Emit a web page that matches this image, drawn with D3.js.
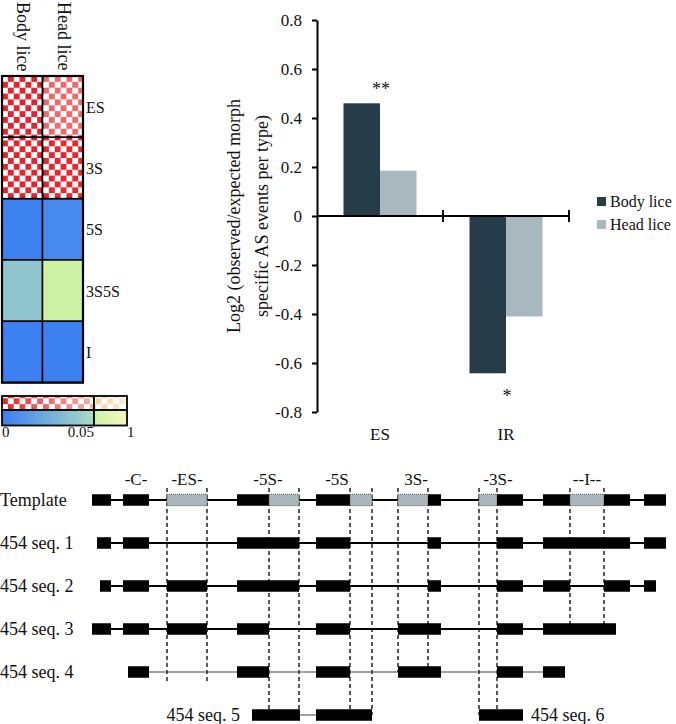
<!DOCTYPE html>
<meta charset="utf-8">
<script src="https://d3js.org/d3.v7.min.js"></script>
<style>
  body { margin: 0; background: #fff; }
  text { font-family: "Liberation Serif", serif; fill: #111; }
</style>
<div id="fig"></div>
<script>

// heatmap: p-values and direction (up = over-represented, drawn checkered)
var heatRows = ["ES", "3S", "5S", "3S5S", "I"];
var heatCols = ["Body lice", "Head lice"];
var heatP = [[0.001, 0.025], [0.001, 0.002], [0.002, 0.006], [0.038, 0.06], [0.001, 0.001]];
var heatDir = [["up", "up"], ["up", "up"], ["down", "down"], ["down", "down"], ["down", "down"]];
var keyTicks = [0, 0.05, 1];

// bar chart
var barCats = ["ES", "IR"];
var barSeries = ["Body lice", "Head lice"];
var bodyVals = [0.46, -0.642];
var headVals = [0.185, -0.41];
var barStars = ["**", "*"];
var yTicks = [-0.8, -0.6, -0.4, -0.2, 0, 0.2, 0.4, 0.6, 0.8];

// gene models (schematic units), "e" = exon, "a" = alternative region
var geneRows = ["Template", "454 seq. 1", "454 seq. 2", "454 seq. 3", "454 seq. 4", "454 seq. 5/6"];
var templateExons = [[0,19,"e"],[31,57,"e"],[75,115,"a"],[145,177,"e"],[177,207,"a"],[224,258,"e"],[258,280,"a"],
                     [306,336,"a"],[336,349,"e"],[387,405,"a"],[405,431,"e"],[451,478,"e"],[478,512,"a"],[512,538,"e"],[552,574,"e"]];
var seq1Exons = [[5,19],[31,57],[145,207],[224,258],[336,349],[405,431],[451,538],[552,574]];
var seq2Exons = [[8,19],[31,57],[75,115],[145,207],[224,258],[336,349],[405,431],[451,478],[512,538],[552,564]];
var seq3Exons = [[0,19],[31,57],[75,115],[145,177],[224,258],[306,349],[405,431],[451,524]];
var seq4Exons = [[36,57],[145,177],[224,258],[306,349],[405,431],[451,473]];
var seq5Exons = [[160,208],[224,280]];
var seq6Exons = [[387,431]];
var eventLabels = ["-C-", "-ES-", "-5S-", "-5S", "3S-", "-3S-", "--I--"];
var eventPos = [44, 95, 176, 245, 324, 406, 495];
var dashPos = [75, 115, 177, 207, 258, 280, 306, 336, 387, 405, 478, 512];
var dashEnd = ["454 seq. 4", "454 seq. 4", "454 seq. 5/6", "454 seq. 5/6", "454 seq. 5/6", "454 seq. 5/6",
               "454 seq. 4", "454 seq. 4", "454 seq. 5/6", "454 seq. 5/6", "454 seq. 3", "454 seq. 3"];

var svg = d3.select("#fig").append("svg")
    .attr("width", 676)
    .attr("height", 724);
var defs = svg.append("defs");

// colours
function downColor(p) {
  if (p <= 0.05) return d3.interpolateRgb("#3a7ef2", "#a8dcc4")(p / 0.05);
  return d3.interpolateRgb("#cdf2a6", "#f6f9bc")((p - 0.05) / 0.95);
}
function upColor(p) {
  if (p <= 0.05) return d3.interpolateRgb("#e6202a", "#f6b4aa")(p / 0.05);
  return d3.interpolateRgb("#f8cc9e", "#fcf0cc")((p - 0.05) / 0.95);
}

var cs = 5.86;
var checker = defs.append("pattern")
    .attr("id", "checker")
    .attr("patternUnits", "userSpaceOnUse")
    .attr("x", 2).attr("y", 76)
    .attr("width", cs * 2).attr("height", cs * 2);
checker.append("rect").attr("x", 0).attr("y", 0).attr("width", cs).attr("height", cs).attr("fill", "#fff");
checker.append("rect").attr("x", cs).attr("y", cs).attr("width", cs).attr("height", cs).attr("fill", "#fff");

// ---------- heatmap ----------
var xh = d3.scaleBand().domain(heatCols).range([2, 83]);
var yh = d3.scaleBand().domain(heatRows).range([76, 382.6]);

var cells = [];
heatRows.forEach(function(r, i) {
  heatCols.forEach(function(c, j) {
    cells.push({row: r, col: c, p: heatP[i][j], dir: heatDir[i][j]});
  });
});

var hm = svg.append("g");
hm.selectAll(".cell").data(cells).enter().append("rect")
    .attr("x", d => xh(d.col)).attr("y", d => yh(d.row))
    .attr("width", xh.bandwidth()).attr("height", yh.bandwidth())
    .attr("fill", d => d.dir == "up" ? upColor(d.p) : downColor(d.p))
    .attr("stroke", "#000").attr("stroke-width", 1.5);
hm.selectAll(".chk").data(cells.filter(d => d.dir == "up")).enter().append("rect")
    .attr("x", d => xh(d.col)).attr("y", d => yh(d.row))
    .attr("width", xh.bandwidth()).attr("height", yh.bandwidth())
    .attr("fill", "url(#checker)")
    .attr("stroke", "#000").attr("stroke-width", 1.5);
hm.append("rect")
    .attr("x", 2).attr("y", 76).attr("width", 81).attr("height", 306.6)
    .attr("fill", "none").attr("stroke", "#000").attr("stroke-width", 2.2);

hm.selectAll(".rowlab").data(heatRows).enter().append("text")
    .attr("x", 86).attr("y", d => yh(d) + yh.bandwidth() / 2 + 6)
    .style("font-size", "16px")
    .text(d => d);

hm.selectAll(".collab").data(heatCols).enter().append("text")
    .attr("transform", d => "translate(" + (xh(d) + xh.bandwidth() / 2 - 5) + ",2) rotate(90)")
    .style("font-size", "18px")
    .text(d => d);

// colour key
var xk = d3.scaleLinear().domain([0, 0.05, 1]).range([2, 94, 127]);
var gUp = defs.append("linearGradient").attr("id", "gup")
    .attr("gradientUnits", "userSpaceOnUse").attr("x1", xk(0)).attr("x2", xk(0.05));
gUp.append("stop").attr("offset", 0).attr("stop-color", upColor(0));
gUp.append("stop").attr("offset", 1).attr("stop-color", upColor(0.05));
var gUp2 = defs.append("linearGradient").attr("id", "gup2")
    .attr("gradientUnits", "userSpaceOnUse").attr("x1", xk(0.05)).attr("x2", xk(1));
gUp2.append("stop").attr("offset", 0).attr("stop-color", upColor(0.051));
gUp2.append("stop").attr("offset", 1).attr("stop-color", upColor(1));
var gDn = defs.append("linearGradient").attr("id", "gdn")
    .attr("gradientUnits", "userSpaceOnUse").attr("x1", xk(0)).attr("x2", xk(0.05));
gDn.append("stop").attr("offset", 0).attr("stop-color", downColor(0));
gDn.append("stop").attr("offset", 1).attr("stop-color", downColor(0.05));
var gDn2 = defs.append("linearGradient").attr("id", "gdn2")
    .attr("gradientUnits", "userSpaceOnUse").attr("x1", xk(0.05)).attr("x2", xk(1));
gDn2.append("stop").attr("offset", 0).attr("stop-color", downColor(0.051));
gDn2.append("stop").attr("offset", 1).attr("stop-color", downColor(1));

var key = svg.append("g");
var keySegs = [[0, 0.05, "gup", 396, true], [0.05, 1, "gup2", 396, true], [0, 0.05, "gdn", 410, false], [0.05, 1, "gdn2", 410, false]];
keySegs.forEach(function(s) {
  key.append("rect")
      .attr("x", xk(s[0])).attr("y", s[3]).attr("width", xk(s[1]) - xk(s[0])).attr("height", s[4] ? 14 : 15.5)
      .attr("fill", "url(#" + s[2] + ")");
  if (s[4]) {
    key.append("rect")
        .attr("x", xk(s[0])).attr("y", s[3]).attr("width", xk(s[1]) - xk(s[0])).attr("height", 14)
        .attr("fill", "url(#checker)");
  }
  key.append("rect")
      .attr("x", xk(s[0])).attr("y", s[3]).attr("width", xk(s[1]) - xk(s[0])).attr("height", s[4] ? 14 : 15.5)
      .attr("fill", "none").attr("stroke", "#000").attr("stroke-width", 1.8);
});
key.selectAll(".kt").data(keyTicks).enter().append("text")
    .attr("x", d => xk(d))
    .attr("y", 437)
    .attr("text-anchor", (d, i) => (i == 0 || i == keyTicks.length - 1) ? "start" : "end")
    .style("font-size", "15px")
    .text(d => d);

// ---------- bar chart ----------
var y = d3.scaleLinear().domain([-0.8, 0.8]).range([412, 20]);
var x0 = d3.scaleBand().domain(barCats).range([317, 569]);
var x1 = d3.scaleBand().domain(barSeries).range([0, x0.bandwidth()]).paddingInner(0).paddingOuter(0.726);
var barColor = d3.scaleOrdinal().domain(barSeries).range(["#263c48", "#a9b8bf"]);

var barData = barCats.map(function(c, i) {
  return {cat: c, star: barStars[i], values: [{s: "Body lice", v: bodyVals[i]}, {s: "Head lice", v: headVals[i]}]};
});

var bc = svg.append("g");
var grp = bc.selectAll(".grp").data(barData).enter().append("g")
    .attr("transform", d => "translate(" + x0(d.cat) + ",0)");
grp.selectAll("rect").data(d => d.values).enter().append("rect")
    .attr("x", d => x1(d.s))
    .attr("y", d => y(Math.max(0, d.v)))
    .attr("width", x1.bandwidth())
    .attr("height", d => Math.abs(y(d.v) - y(0)))
    .attr("fill", d => barColor(d.s));
grp.append("text")
    .attr("x", x0.bandwidth() / 2 + 1)
    .attr("y", d => d.values[0].v > 0 ? y(d.values[0].v) - 8 : y(d.values[0].v) + 29)
    .attr("text-anchor", "middle")
    .style("font-size", "18px")
    .text(d => d.star);

var yAxis = d3.axisLeft(y).tickValues(yTicks).tickSize(5).tickSizeOuter(0).tickPadding(10)
    .tickFormat(d => d == 0 ? "0" : d3.format(".1f")(d).replace("\u2212", "-"));
var ya = bc.append("g").attr("transform", "translate(317,0)").call(yAxis);
ya.select(".domain").attr("stroke-width", 2);
ya.selectAll(".tick line").attr("stroke-width", 2);
ya.selectAll("text").style("font-family", "Liberation Serif").style("font-size", "17px").attr("fill", "#111");

bc.append("line")
    .attr("x1", x0.range()[0]).attr("x2", x0.range()[1])
    .attr("y1", y(0)).attr("y2", y(0))
    .attr("stroke", "#000").attr("stroke-width", 2);
bc.selectAll(".xt").data(barCats).enter().append("line")
    .attr("x1", d => x0(d) + x0.bandwidth()).attr("x2", d => x0(d) + x0.bandwidth())
    .attr("y1", y(0) - 6).attr("y2", y(0) + 6)
    .attr("stroke", "#000").attr("stroke-width", 2);
bc.selectAll(".xl").data(barCats).enter().append("text")
    .attr("x", d => x0(d) + x0.bandwidth() / 2)
    .attr("y", 440)
    .attr("text-anchor", "middle")
    .style("font-size", "17px")
    .text(d => d);

var yl = bc.append("text")
    .attr("transform", "translate(240," + y(0) + ") rotate(-90)")
    .attr("text-anchor", "middle")
    .style("font-size", "18px");
yl.append("tspan").attr("x", 0).attr("dy", 0).text("Log2 (observed/expected morph");
yl.append("tspan").attr("x", 0).attr("dy", 28).text("specific AS events per type)");

var lg = bc.selectAll(".lg").data(barSeries).enter().append("g")
    .attr("transform", (d, i) => "translate(597," + (197 + i * 23) + ")");
lg.append("rect").attr("width", 9).attr("height", 9).attr("fill", d => barColor(d));
lg.append("text").attr("x", 13).attr("y", 10).style("font-size", "16px").text(d => d);

// ---------- gene models ----------
var xg = d3.scaleLinear().domain([0, 574]).range([92, 666]);
var yg = d3.scalePoint().domain(geneRows).range([500, 715]);
var exH = 11.5;

var models = [
  {row: "Template", exons: templateExons},
  {row: "454 seq. 1", exons: seq1Exons},
  {row: "454 seq. 2", exons: seq2Exons},
  {row: "454 seq. 3", exons: seq3Exons},
  {row: "454 seq. 4", exons: seq4Exons, thin: true},
  {row: "454 seq. 5/6", exons: seq5Exons, thin: true, label: "454 seq. 5", side: "left"},
  {row: "454 seq. 5/6", exons: seq6Exons, label: "454 seq. 6", side: "right"}
];

var gm = svg.append("g");

// dashed guide lines
gm.selectAll(".dash").data(dashPos).enter().append("line")
    .attr("x1", d => xg(d)).attr("x2", d => xg(d))
    .attr("y1", yg("Template") - 12)
    .attr("y2", function(d, i) {
      var m = models.filter(mm => mm.row == dashEnd[i]);
      var covered = m.some(mm => mm.exons.some(e => e[0] <= d && e[1] >= d));
      return yg(dashEnd[i]) + (covered ? 0 : 11);
    })
    .attr("stroke", "#000").attr("stroke-width", 1.3).attr("stroke-dasharray", "4,3");

models.forEach(function(m) {
  var cy = yg(m.row);
  var lo = d3.min(m.exons, e => e[0]), hi = d3.max(m.exons, e => e[1]);
  gm.append("line")
      .attr("x1", xg(lo)).attr("x2", xg(hi)).attr("y1", cy).attr("y2", cy)
      .attr("stroke", m.thin ? "#444" : "#000").attr("stroke-width", m.thin ? 1.2 : 1.8);
  gm.selectAll(null).data(m.exons).enter().append("rect")
      .attr("x", e => xg(e[0])).attr("y", cy - exH / 2)
      .attr("width", e => xg(e[1]) - xg(e[0])).attr("height", exH)
      .attr("fill", e => e[2] == "a" ? "#a9b6bb" : "#000")
      .attr("stroke", e => e[2] == "a" ? "#555" : "none")
      .attr("stroke-width", 1).attr("stroke-dasharray", e => e[2] == "a" ? "1,1" : null);
  if (m.label) {
    gm.append("text")
        .attr("x", m.side == "left" ? xg(lo) - 12 : xg(hi) + 8)
        .attr("y", cy + 6)
        .attr("text-anchor", m.side == "left" ? "end" : "start")
        .style("font-size", "18px")
        .text(m.label);
  }
});

gm.selectAll(".rl").data(geneRows.slice(0, 5)).enter().append("text")
    .attr("x", 0).attr("y", d => yg(d) + 6)
    .style("font-size", "18px")
    .text(d => d);

gm.selectAll(".ev").data(eventLabels).enter().append("text")
    .attr("x", (d, i) => xg(eventPos[i]))
    .attr("y", 485)
    .attr("text-anchor", "middle")
    .style("font-size", "17px")
    .text(d => d);

</script>
